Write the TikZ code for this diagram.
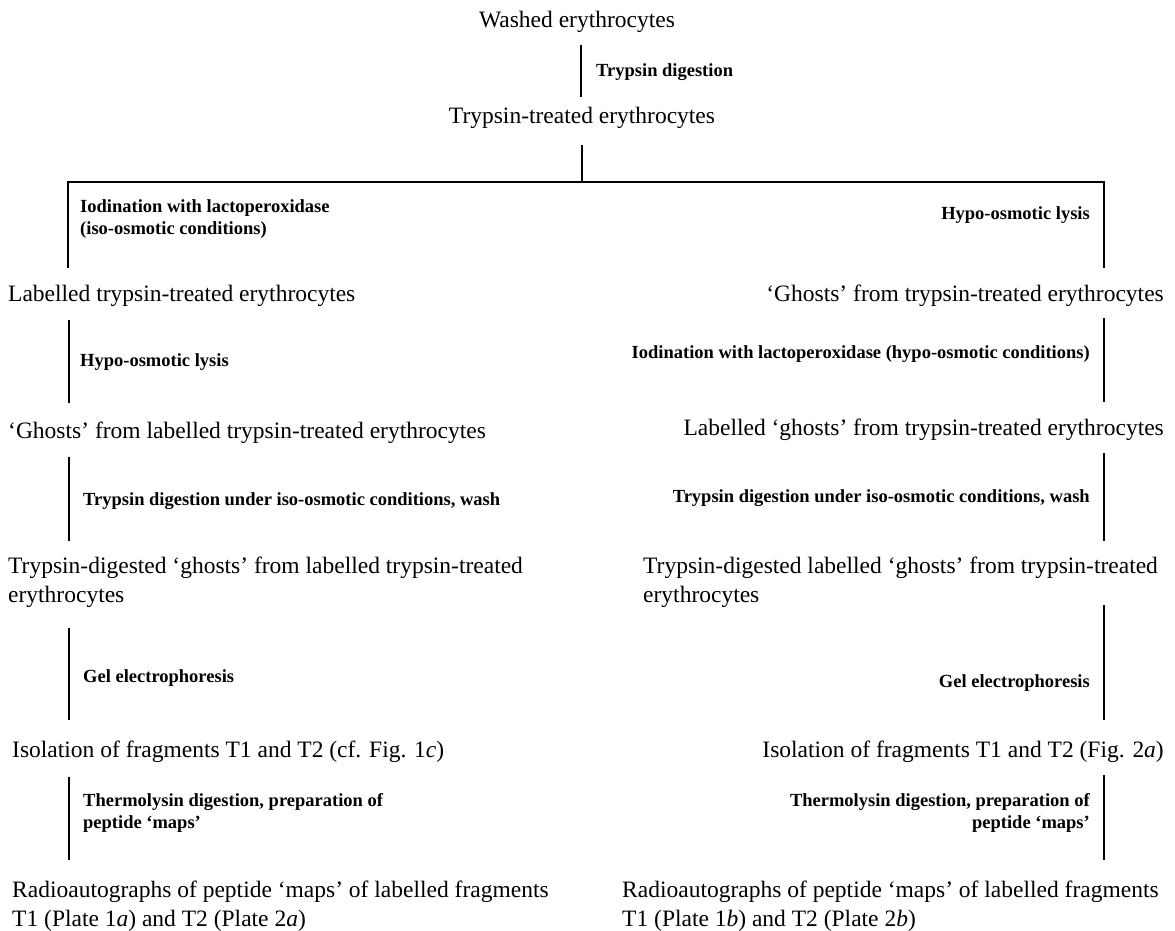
\documentclass[tikz,border=0pt]{standalone}
\usepackage{fontspec}
\setmainfont{Liberation Serif}
\begin{document}
\begin{tikzpicture}[x=1pt,y=-1pt,
  stage/.style={inner sep=0pt, font=\fontsize{23.5}{29}\selectfont, align=left},
  stepnote/.style={inner sep=0pt, font=\bfseries\fontsize{18.5}{21.5}\selectfont},
  link/.style={line width=1.8pt}]
\useasboundingbox[fill=white] (0,0) rectangle (1175,931);
% stages
\node[stage] (wash) at (577,22) {Washed erythrocytes};
\node[stage] (tt) at (582,118) {Trypsin-treated erythrocytes};
\node[stage, anchor=west] (L1) at (8,296) {Labelled trypsin-treated erythrocytes};
\node[stage, anchor=east] (R1) at (1164,296) {`Ghosts' from trypsin-treated erythrocytes};
\node[stage, anchor=west] (L2) at (8,433) {`Ghosts' from labelled trypsin-treated erythrocytes};
\node[stage, anchor=east] (R2) at (1164,430) {Labelled `ghosts' from trypsin-treated erythrocytes};
\node[stage, anchor=west] (L3) at (8,582) {Trypsin-digested `ghosts' from labelled trypsin-treated\\erythrocytes};
\node[stage, anchor=west] (R3) at (643,582) {Trypsin-digested labelled `ghosts' from trypsin-treated\\erythrocytes};
\node[stage, anchor=west] (L4) at (12,752) {Isolation of fragments T1 and T2 (cf. Fig. 1\textit{c})};
\node[stage, anchor=east] (R4) at (1164,752) {Isolation of fragments T1 and T2 (Fig. 2\textit{a})};
\node[stage, anchor=west] (L5) at (12,906) {Radioautographs of peptide `maps' of labelled fragments\\T1 (Plate 1\textit{a}) and T2 (Plate 2\textit{a})};
\node[stage, anchor=west] (R5) at (622,906) {Radioautographs of peptide `maps' of labelled fragments\\T1 (Plate 1\textit{b}) and T2 (Plate 2\textit{b})};
% step notes
\node[stepnote, anchor=west] (s0) at (596,72) {Trypsin digestion};
\node[stepnote, anchor=west, align=left] (sL1) at (80,219) {Iodination with lactoperoxidase\\(iso-osmotic conditions)};
\node[stepnote, anchor=east] (sR1) at (1090,215) {Hypo-osmotic lysis};
\node[stepnote, anchor=west] (sL2) at (80,362) {Hypo-osmotic lysis};
\node[stepnote, anchor=east] (sR2) at (1090,354) {Iodination with lactoperoxidase (hypo-osmotic conditions)};
\node[stepnote, anchor=west] (sL3) at (83,501) {Trypsin digestion under iso-osmotic conditions, wash};
\node[stepnote, anchor=east] (sR3) at (1090,498) {Trypsin digestion under iso-osmotic conditions, wash};
\node[stepnote, anchor=west] (sL4) at (83,678) {Gel electrophoresis};
\node[stepnote, anchor=east] (sR4) at (1090,683) {Gel electrophoresis};
\node[stepnote, anchor=west, align=left] (sL5) at (83,813) {Thermolysin digestion, preparation of\\peptide `maps'};
\node[stepnote, anchor=east, align=right] (sR5) at (1090,813) {Thermolysin digestion, preparation of\\peptide `maps'};
% connector ends
\coordinate (c0a) at (581,45);  \coordinate (c0b) at (581,97);
\coordinate (c1a) at (582,145); \coordinate (c1b) at (582,182);
\coordinate (hL) at (68,182);   \coordinate (hR) at (1104,182);
\coordinate (cL1) at (68,268);  \coordinate (cR1) at (1104,268);
\coordinate (cL2a) at (69,320); \coordinate (cL2b) at (69,403);
\coordinate (cR2a) at (1104,318); \coordinate (cR2b) at (1104,402);
\coordinate (cL3a) at (69,457); \coordinate (cL3b) at (69,541);
\coordinate (cR3a) at (1104,453); \coordinate (cR3b) at (1104,541);
\coordinate (cL4a) at (69,628); \coordinate (cL4b) at (69,720);
\coordinate (cR4a) at (1104,605); \coordinate (cR4b) at (1104,720);
\coordinate (cL5a) at (69,777); \coordinate (cL5b) at (69,860);
\coordinate (cR5a) at (1104,775); \coordinate (cR5b) at (1104,860);
% connectors
\draw[link] (c0a) -- (c0b);
\draw[link] (c1a) -- (c1b);
\draw[link] (cL1) -- (hL) -- (hR) -- (cR1);
\draw[link] (cL2a) -- (cL2b);
\draw[link] (cR2a) -- (cR2b);
\draw[link] (cL3a) -- (cL3b);
\draw[link] (cR3a) -- (cR3b);
\draw[link] (cL4a) -- (cL4b);
\draw[link] (cR4a) -- (cR4b);
\draw[link] (cL5a) -- (cL5b);
\draw[link] (cR5a) -- (cR5b);
\end{tikzpicture}
\end{document}
